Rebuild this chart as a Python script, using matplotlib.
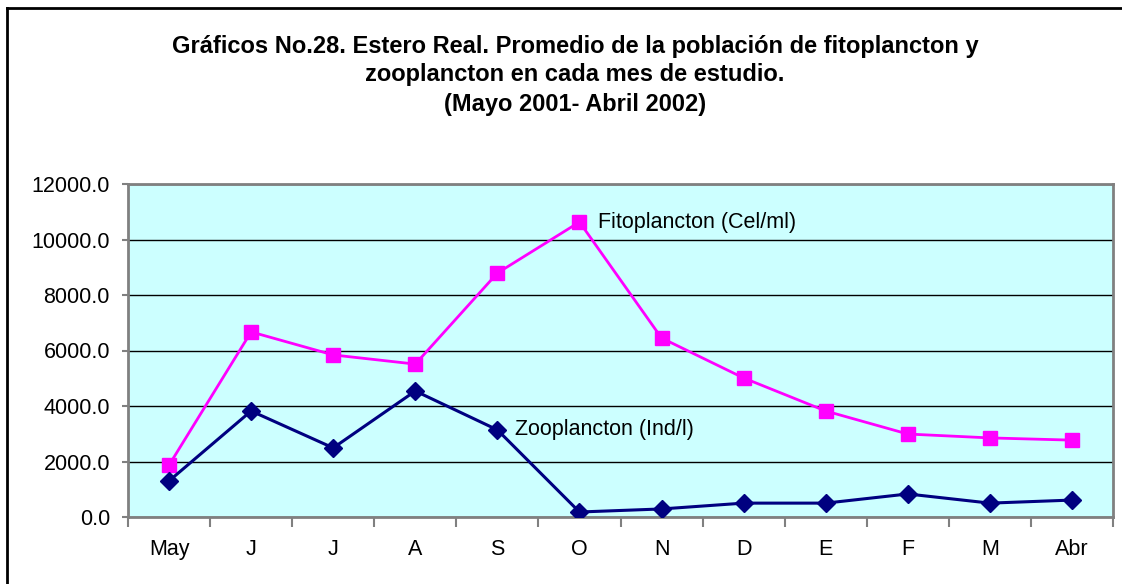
import matplotlib
matplotlib.use("Agg")
import matplotlib.pyplot as plt
from matplotlib.lines import Line2D

months = ["May", "J", "J", "A", "S", "O", "N", "D", "E", "F", "M", "Abr"]
fitoplancton = [1870, 6670, 5840, 5510, 8790, 10630, 6450, 5010, 3820, 2990, 2850, 2770]
zooplancton = [1300, 3820, 2490, 4540, 3140, 180, 290, 500, 500, 830, 500, 610]
yticks = [0, 2000, 4000, 6000, 8000, 10000, 12000]

plt.rcParams['font.family'] = ['Liberation Sans', 'DejaVu Sans']

fig = plt.figure(figsize=(11.22, 5.84), dpi=100)
ax = fig.add_axes([128/1122, 67/584, 985/1122, 333/584])
ax.set_facecolor("#CCFFFF")

x = list(range(len(months)))
ax.plot(x, fitoplancton, color="#FF00FF", lw=2, marker="s", markersize=10, zorder=3)
ax.plot(x, zooplancton, color="#000080", lw=2.2, marker="D", markersize=9, zorder=4)

ax.set_xlim(-0.5, len(months) - 0.5)
ax.set_ylim(0, 12000)
ax.set_yticks(yticks)
ax.set_yticklabels([f"{v:.1f}" for v in yticks], fontsize=15.5)
ax.set_xticks(x)
ax.set_xticklabels(months, fontsize=15.5)
ax.tick_params(axis="x", length=0, pad=16)
ax.set_xticks([i - 0.5 for i in range(len(months) + 1)], minor=True)
ax.tick_params(axis="x", which="minor", length=7, width=1.5, color="#808080", direction="out")
ax.tick_params(axis="y", length=4.5, width=1.5, color="#808080", direction="out", pad=8.5)
ax.grid(axis="y", color="black", lw=1)
ax.set_axisbelow(True)
for s in ax.spines.values():
    s.set_color("#808080")
    s.set_linewidth(2)

ax.text(5.22, 10630, "Fitoplancton (Cel/ml)", fontsize=15.5, va="center", ha="left")
ax.text(4.21, 3140, "Zooplancton (Ind/l)", fontsize=15.5, va="center", ha="left")

fig.text(575/1122, 1 - 47/584, "Gráficos No.28. Estero Real. Promedio de la población de fitoplancton y",
         ha="center", va="center", fontsize=17, fontweight="bold")
fig.text(575/1122, 1 - 75/584, "zooplancton en cada mes de estudio.",
         ha="center", va="center", fontsize=17, fontweight="bold")
fig.text(575/1122, 1 - 105/584, "(Mayo 2001- Abril 2002)",
         ha="center", va="center", fontsize=17, fontweight="bold")

# outer chart border (top and left visible)
fig.add_artist(Line2D([7/1122, 1], [1 - 8/584, 1 - 8/584], color="black", lw=2, transform=fig.transFigure))
fig.add_artist(Line2D([7/1122, 7/1122], [0, 1 - 8/584], color="black", lw=2, transform=fig.transFigure))

fig.savefig("out.png", dpi=100)
